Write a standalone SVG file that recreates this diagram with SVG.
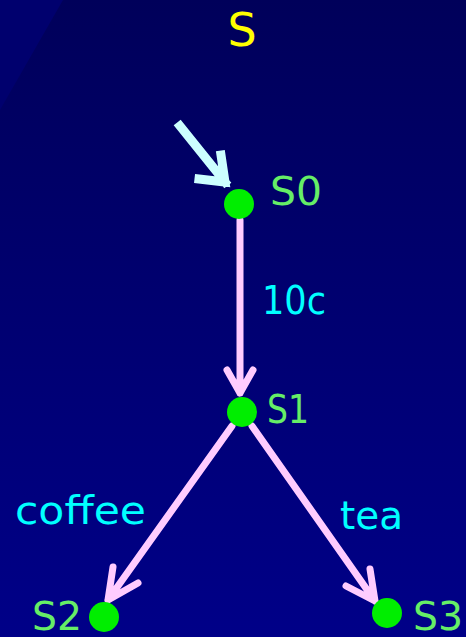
<svg xmlns="http://www.w3.org/2000/svg" width="466" height="637" viewBox="0 0 466 637">
<defs>
<linearGradient id="bg" x1="0" y1="0" x2="0" y2="1">
<stop offset="0" stop-color="#00005a"/>
<stop offset="1" stop-color="#000088"/>
</linearGradient>
<style>
.node{fill:#00ee00}
.st{font-family:"DejaVu Sans",sans-serif;font-size:39px;fill:#66ee66}
.el{font-family:"DejaVu Sans",sans-serif;font-size:39px;fill:#00ffff}
.edge{stroke:#ffccff;stroke-width:7;fill:none;stroke-linecap:round;stroke-linejoin:round}
.entry{stroke:#ccffff;stroke-width:9;fill:none;stroke-linecap:square;stroke-linejoin:miter}
</style>
</defs>
<rect width="466" height="637" fill="url(#bg)"/>
<polygon points="0,0 63,0 0,110" fill="#00006e"/>
<text x="242" y="46" text-anchor="middle" font-family="'DejaVu Sans',sans-serif" font-size="46" fill="#ffff00">S</text>
<g id="connectors">
<path class="entry" d="M180,126 L225,182 M199,179 L225,182 L221,155"/>
<path class="edge" d="M240,220 L240,393 M227,370 L240,393 L253,370"/>
<path class="edge" d="M232,426 L108,600 M113,567 L108,600 L138,583"/>
<path class="edge" d="M252,426 L375,601 M370,569 L375,601 L346,586"/>
<text class="el" x="262" y="314" textLength="64" lengthAdjust="spacingAndGlyphs">10c</text>
<text class="el" x="15" y="524" textLength="131" lengthAdjust="spacingAndGlyphs">coffee</text>
<text class="el" x="340" y="529" textLength="63" lengthAdjust="spacingAndGlyphs">tea</text>
</g>
<g id="S0"><circle class="node" cx="239" cy="204" r="15"/><text class="st" x="270" y="205" textLength="52" lengthAdjust="spacingAndGlyphs">S0</text></g>
<g id="S1"><circle class="node" cx="242" cy="412" r="15"/><text class="st" x="267" y="423" textLength="42" lengthAdjust="spacingAndGlyphs">S1</text></g>
<g id="S2"><circle class="node" cx="104" cy="617" r="15"/><text class="st" x="32" y="630" textLength="50" lengthAdjust="spacingAndGlyphs">S2</text></g>
<g id="S3"><circle class="node" cx="387" cy="613" r="15"/><text class="st" x="413" y="630" textLength="50" lengthAdjust="spacingAndGlyphs">S3</text></g>
</svg>
